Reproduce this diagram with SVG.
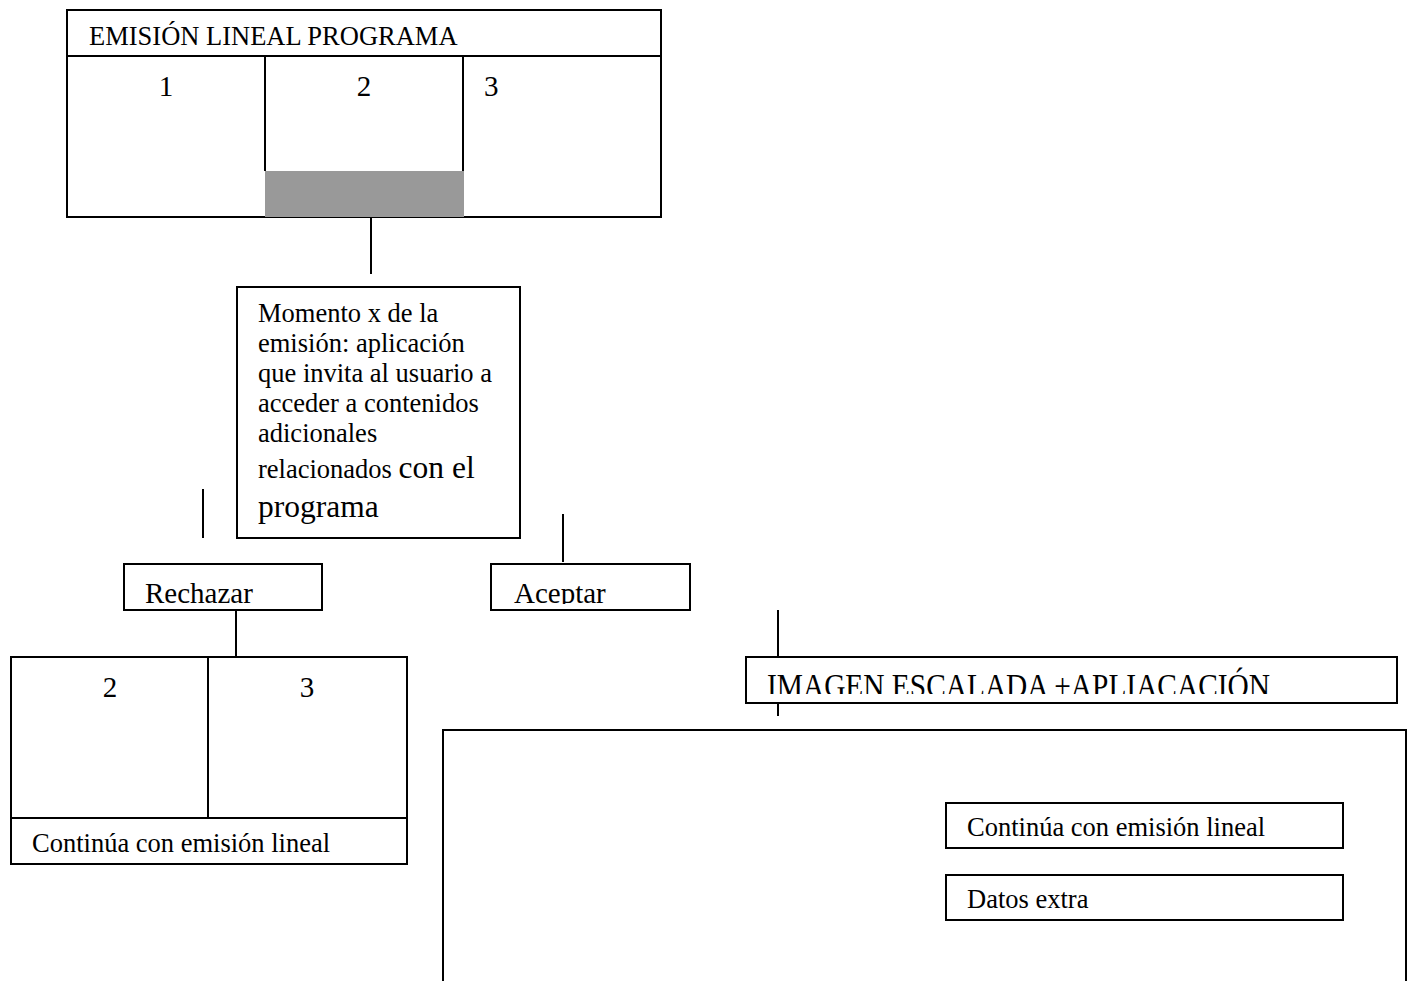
<svg xmlns="http://www.w3.org/2000/svg" width="1412" height="981" viewBox="0 0 1412 981">
<style>
.b{fill:#fff;stroke:#000;stroke-width:2}
.l{stroke:#000;stroke-width:2;fill:none}
text{font-family:"Liberation Serif","Times New Roman",serif;fill:#000}
.t{font-size:26.5px}
.s{font-size:26.5px}
.n{font-size:29px}
.g{font-size:31.5px}
.k{font-size:29px}
</style>
<defs>
<clipPath id="cRe"><rect x="124" y="564" width="198" height="40"/></clipPath>
<clipPath id="cAc"><rect x="491" y="564" width="199" height="40"/></clipPath>
<clipPath id="cIm"><rect x="746" y="657" width="651" height="37"/></clipPath>
</defs>
<rect width="1412" height="981" fill="#fff"/>
<g id="connectors">
<line class="l" x1="371" y1="217" x2="371" y2="274"/>
<line class="l" x1="203" y1="489" x2="203" y2="538"/>
<line class="l" x1="563" y1="514" x2="563" y2="562"/>
<line class="l" x1="236" y1="610" x2="236" y2="657"/>
<line class="l" x1="778" y1="610" x2="778" y2="657"/>
<line class="l" x1="778" y1="703" x2="778" y2="716"/>
</g>
<g id="emision">
<rect class="b" x="67" y="10" width="594" height="207"/>
<line class="l" x1="67" y1="56" x2="661" y2="56"/>
<line class="l" x1="265" y1="56" x2="265" y2="171"/>
<line class="l" x1="463" y1="56" x2="463" y2="171"/>
<rect x="265" y="171" width="199" height="46" fill="#999"/>
<text class="t" x="89" y="45">EMISIÓN LINEAL PROGRAMA</text>
<text class="n" x="166" y="96" text-anchor="middle">1</text>
<text class="n" x="364" y="96" text-anchor="middle">2</text>
<text class="n" x="484" y="96">3</text>
</g>
<g id="momento">
<rect class="b" x="237" y="287" width="283" height="251"/>
<text class="s" x="258" y="322">Momento x de la</text>
<text class="s" x="258" y="352">emisión: aplicación</text>
<text class="s" x="258" y="382">que invita al usuario a</text>
<text class="s" x="258" y="412">acceder a contenidos</text>
<text class="s" x="258" y="442">adicionales</text>
<text x="258" y="478"><tspan class="s">relacionados </tspan><tspan class="g">con el</tspan></text>
<text class="g" x="258" y="517">programa</text>
</g>
<g id="rechazar">
<rect class="b" x="124" y="564" width="198" height="46"/>
<text class="k" x="145" y="603" clip-path="url(#cRe)">Rechazar</text>
</g>
<g id="aceptar">
<rect class="b" x="491" y="564" width="199" height="46"/>
<text class="k" x="514" y="603" clip-path="url(#cAc)">Aceptar</text>
</g>
<g id="continua-izq">
<rect class="b" x="11" y="657" width="396" height="207"/>
<line class="l" x1="208" y1="657" x2="208" y2="818"/>
<line class="l" x1="11" y1="818" x2="407" y2="818"/>
<text class="n" x="110" y="697" text-anchor="middle">2</text>
<text class="n" x="307" y="697" text-anchor="middle">3</text>
<text class="t" x="32" y="852">Continúa con emisión lineal</text>
</g>
<g id="imagen">
<rect class="b" x="746" y="657" width="651" height="46"/>
<text x="767" y="697" font-size="33" textLength="503" lengthAdjust="spacingAndGlyphs" clip-path="url(#cIm)">IMAGEN ESCALADA +APLIACACIÓN</text>
</g>
<g id="pantalla">
<path class="l" d="M443 983 V730 H1406 V983"/>
</g>
<g id="continua-der">
<rect class="b" x="946" y="803" width="397" height="45"/>
<text class="t" x="967" y="836">Continúa con emisión lineal</text>
</g>
<g id="datos">
<rect class="b" x="946" y="875" width="397" height="45"/>
<text class="t" x="967" y="908">Datos extra</text>
</g>
</svg>
